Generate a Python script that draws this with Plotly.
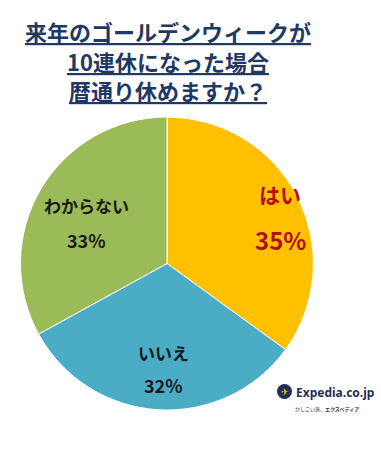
import plotly.graph_objects as go

labels = ["はい", "いいえ", "わからない"]
values = [35, 32, 33]
colors = ["#FFC000", "#4BACC6", "#9BBB59"]
text_colors = ["#B01010", "#1A1A1A", "#1A1A1A"]
label_sizes = [21, 17, 17]
pct_sizes = [24, 18, 18]
title_lines = ["来年のゴールデンウィークが", "10連休になった場合", "暦通り休めますか？"]

W, H = 381, 449
def px(x): return x / W
def py(y): return 1 - y / H

fig = go.Figure()
fig.add_trace(go.Pie(
    labels=labels, values=values, sort=False, direction="clockwise", rotation=0,
    marker=dict(colors=colors, line=dict(color="white", width=1)),
    textinfo="none",
    domain=dict(x=[px(20.5), px(313.5)], y=[py(410), py(117)]),
    showlegend=False, hoverinfo="label+percent",
))

# slice labels (label / percent)
label_pos = [(280, 194, 239), (163, 352, 385), (86, 205, 240)]
for lab, val, col, ls, ps, (x, y1, y2) in zip(labels, values, text_colors, label_sizes, pct_sizes, label_pos):
    fig.add_annotation(text=f"<b>{lab}</b>", x=px(x), y=py(y1), xref="paper", yref="paper",
                       xanchor="center", yanchor="middle",
                       showarrow=False, font=dict(family="Noto Sans CJK JP", size=ls, color=col))
    fig.add_annotation(text=f"<b>{val}%</b>", x=px(x), y=py(y2), xref="paper", yref="paper",
                       xanchor="center", yanchor="middle",
                       showarrow=False, font=dict(family="Noto Sans CJK JP", size=ps, color=col))

# title lines
for t, y in zip(title_lines, [31, 61, 90]):
    fig.add_annotation(text=f"<b><u>{t}</u></b>", x=px(168), y=py(y), xref="paper", yref="paper",
                       xanchor="center", yanchor="middle", showarrow=False,
                       font=dict(family="Noto Sans CJK JP", size=22, color="#203864"))

# Expedia logo
fig.add_shape(type="circle", xref="paper", yref="paper",
              x0=px(277), x1=px(292), y0=py(399), y1=py(384),
              fillcolor="#1F2F55", line=dict(width=0))
fig.add_annotation(text="✈", x=px(284.5), y=py(391.5), xref="paper", yref="paper",
                   xanchor="center", yanchor="middle",
                   showarrow=False, font=dict(size=9, color="#FFC000"))
fig.add_annotation(text="<b>Expedia.co.jp</b>", x=px(294), y=py(392),
                   xref="paper", yref="paper", xanchor="left", yanchor="middle", showarrow=False,
                   font=dict(family="Noto Sans", size=12, color="#1F2F55"))
fig.add_annotation(text="かしこい旅、<b>エクスペディア</b>", x=px(293), y=py(409),
                   xref="paper", yref="paper", xanchor="left", yanchor="middle", showarrow=False,
                   font=dict(family="Noto Sans CJK JP", size=5, color="#1F2F55"))

fig.update_layout(
    width=W, height=H, margin=dict(l=0, r=0, t=0, b=0),
    paper_bgcolor="white", plot_bgcolor="white",
    font=dict(family="Noto Sans CJK JP"),
)
fig.write_html("out.html", config={"displayModeBar": False},
               post_script="document.body.style.margin='0';")
